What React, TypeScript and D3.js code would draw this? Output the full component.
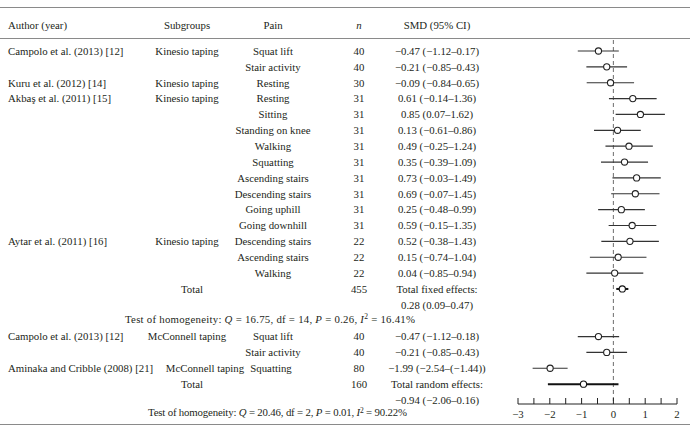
import React from "react";
import * as d3 from "d3";

const authors = ["Campolo et al. (2013) [12]", "", "Kuru et al. (2012) [14]", "Akbaş et al. (2011) [15]", "", "", "", "", "", "", "", "", "Aytar et al. (2011) [16]", "", "", "Campolo et al. (2013) [12]", "", "Aminaka and Cribble (2008) [21]"];
const subgroups = ["Kinesio taping", "", "Kinesio taping", "Kinesio taping", "", "", "", "", "", "", "", "", "Kinesio taping", "", "", "McConnell taping", "", "McConnell taping"];
const pains = ["Squat lift", "Stair activity", "Resting", "Resting", "Sitting", "Standing on knee", "Walking", "Squatting", "Ascending stairs", "Descending stairs", "Going uphill", "Going downhill", "Descending stairs", "Ascending stairs", "Walking", "Squat lift", "Stair activity", "Squatting"];
const ns = [40, 40, 30, 31, 31, 31, 31, 31, 31, 31, 31, 31, 22, 22, 22, 40, 40, 80];
const smd = [-0.47, -0.21, -0.09, 0.61, 0.85, 0.13, 0.49, 0.35, 0.73, 0.69, 0.25, 0.59, 0.52, 0.15, 0.04, -0.47, -0.21, -1.99];
const lo = [-1.12, -0.85, -0.84, -0.14, 0.07, -0.61, -0.25, -0.39, -0.03, -0.07, -0.48, -0.15, -0.38, -0.74, -0.85, -1.12, -0.85, -2.54];
const hi = [0.17, 0.43, 0.65, 1.36, 1.62, 0.86, 1.24, 1.09, 1.49, 1.45, 0.99, 1.35, 1.43, 1.04, 0.94, 0.18, 0.43, -1.44];
const slots = [0, 1, 2, 3, 4, 5, 6, 7, 8, 9, 10, 11, 12, 13, 14, 18, 19, 20];

const totalLabels = ["Total fixed effects:", "Total random effects:"];
const totalN = [455, 160];
const totalSmd = [0.28, -0.94];
const totalLo = [0.09, -2.06];
const totalHi = [0.47, 0.16];
const totalSlots = [15, 21];

const hetQ = ["16.75", "20.46"];
const hetDf = ["14", "2"];
const hetP = ["0.26", "0.01"];
const hetI2 = ["16.41", "90.22"];
const hetSlots = [16.9, 22.8];

const axisTicks = [-3, -2, -1, 0, 1, 2];

const FONT = "'Liberation Serif', 'Times New Roman', serif";
const FS = 10.8;
const TXT = "#231f20";
const RULE = "#8a8a8a";

const minus = (s: string) => s.replace(/-/g, "\u2212");
const f2 = (v: number) => minus(v.toFixed(2));
const ciText = (m: number, l: number, h: number) => {
  const hs = h < 0 ? `(${f2(h)})` : f2(h);
  return `${f2(m)} (${f2(l)}\u2013${hs})`;
};

export default function App() {
  const W = 695, H = 430;
  const x = d3.scaleLinear().domain([-3, 2]).range([518, 677]);
  const y = d3.scaleLinear().domain([0, 22]).range([51, 400]);
  const minorTicks = d3.range(-3, 2.01, 0.5);
  const axisY = 404;

  const colAuthor = 8, colSub = 187, colPain = 273, colN = 359, colSmd = 437;
  const hetX = [125, 148];
  const hetLen = [290, 259];

  return (
    <svg width={W} height={H} style={{ position: "absolute", left: 0, top: 0, background: "#fff" }} fontFamily={FONT} fontSize={FS} fill={TXT}>
      {/* rules */}
      <line x1={0} x2={690} y1={7.5} y2={7.5} stroke={RULE} strokeWidth={1.2} />
      <line x1={0} x2={690} y1={38.5} y2={38.5} stroke={RULE} strokeWidth={1.2} />
      <line x1={0} x2={690} y1={424.5} y2={424.5} stroke={RULE} strokeWidth={1.2} />

      {/* header */}
      <text x={colAuthor} y={25} dy="0.35em">Author (year)</text>
      <text x={colSub} y={25} dy="0.35em" textAnchor="middle">Subgroups</text>
      <text x={colPain} y={25} dy="0.35em" textAnchor="middle">Pain</text>
      <text x={colN} y={25} dy="0.35em" textAnchor="middle" fontStyle="italic">n</text>
      <text x={colSmd} y={25} dy="0.35em" textAnchor="middle">SMD (95% CI)</text>

      {/* null line */}
      <line x1={x(0)} x2={x(0)} y1={40} y2={axisY} stroke="#7a7a7a" strokeWidth={1.1} strokeDasharray="4,3" />

      {/* study rows */}
      {slots.map((s, i) => {
        const yy = y(s);
        const long = authors[i].length > 28;
        return (
          <g key={i}>
            {authors[i] && <text x={colAuthor} y={yy} dy="0.35em">{authors[i]}</text>}
            {subgroups[i] && <text x={long ? colSub + 18 : colSub} y={yy} dy="0.35em" textAnchor="middle">{subgroups[i]}</text>}
            <text x={long ? colPain - 2 : colPain} y={yy} dy="0.35em" textAnchor="middle">{pains[i]}</text>
            <text x={colN} y={yy} dy="0.35em" textAnchor="middle">{ns[i]}</text>
            <text x={colSmd} y={yy} dy="0.35em" textAnchor="middle">{ciText(smd[i], lo[i], hi[i])}</text>
            <line x1={x(lo[i])} x2={x(hi[i])} y1={yy} y2={yy} stroke="#333" strokeWidth={1.2} />
            <circle cx={x(smd[i])} cy={yy} r={3.1} fill="#fff" stroke="#222" strokeWidth={1.1} />
          </g>
        );
      })}

      {/* totals */}
      {totalSlots.map((s, i) => {
        const yy = y(s);
        return (
          <g key={"t" + i}>
            <text x={colSub + 5} y={yy} dy="0.35em" textAnchor="middle">Total</text>
            <text x={colN} y={yy} dy="0.35em" textAnchor="middle">{totalN[i]}</text>
            <text x={colSmd} y={yy} dy="0.35em" textAnchor="middle">{totalLabels[i]}</text>
            <text x={colSmd} y={y(s + 1)} dy="0.35em" textAnchor="middle">{ciText(totalSmd[i], totalLo[i], totalHi[i])}</text>
            <line x1={x(totalLo[i])} x2={x(totalHi[i])} y1={yy} y2={yy} stroke="#111" strokeWidth={2} />
            <circle cx={x(totalSmd[i])} cy={yy} r={3.1} fill="#fff" stroke="#111" strokeWidth={1.1} />
          </g>
        );
      })}

      {/* heterogeneity */}
      {hetSlots.map((s, i) => (
        <text key={"h" + i} x={hetX[i]} y={y(s)} dy="0.35em" textLength={hetLen[i]} lengthAdjust="spacing">
          Test of homogeneity: <tspan fontStyle="italic">Q</tspan> = {hetQ[i]}, df = {hetDf[i]}, <tspan fontStyle="italic">P</tspan> = {hetP[i]}, <tspan fontStyle="italic">I</tspan><tspan fontSize={FS * 0.7} dy="-0.45em">2</tspan><tspan dy="0.3em"> = {hetI2[i]}%</tspan>
        </text>
      ))}

      {/* axis */}
      <line x1={x(-3)} x2={x(2)} y1={axisY} y2={axisY} stroke="#222" strokeWidth={1} />
      {minorTicks.map((t) => (
        <line key={"m" + t} x1={x(t)} x2={x(t)} y1={axisY} y2={axisY - 6} stroke="#222" strokeWidth={1} />
      ))}
      {axisTicks.map((t) => (
        <text key={"a" + t} x={x(t)} y={axisY + 10} dy="0.35em" textAnchor="middle">{minus(String(t))}</text>
      ))}
    </svg>
  );
}
